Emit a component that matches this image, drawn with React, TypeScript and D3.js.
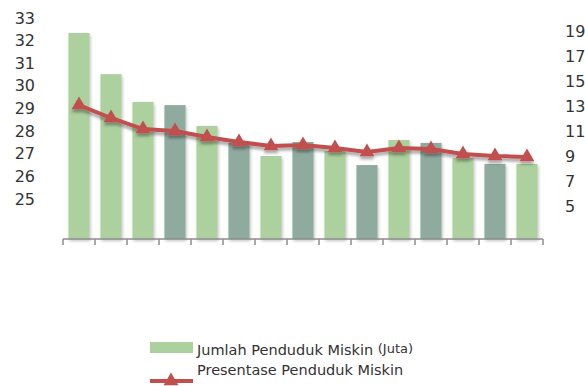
import React, { useEffect, useRef } from "react";
import * as d3 from "d3";

// periods (no labels shown on the axis)
const periods = ["1", "2", "3", "4", "5", "6", "7", "8", "9", "10", "11", "12", "13", "14", "15"];
// Jumlah Penduduk Miskin (Juta)
const jumlah = [32.34, 30.52, 29.29, 29.15, 28.23, 27.48, 26.9, 27.52, 27.12, 26.5, 27.61, 27.48, 26.81, 26.55, 26.55];
// Presentase Penduduk Miskin (%)
const presentase = [13.11, 12.07, 11.18, 11.02, 10.54, 10.14, 9.82, 9.9, 9.66, 9.34, 9.66, 9.58, 9.18, 9.02, 8.94];
// bar shade per period
const shade = ["l", "l", "l", "d", "l", "d", "l", "d", "l", "d", "l", "d", "l", "d", "l"];
const leftTicks = [25, 26, 27, 28, 29, 30, 31, 32, 33];
const rightTicks = [5, 7, 9, 11, 13, 15, 17, 19];
const legendLabels = ["Jumlah Penduduk Miskin", "Presentase Penduduk Miskin"];

export default function App() {
  const svgRef = useRef<SVGSVGElement>(null);

  useEffect(() => {
    if (!svgRef.current) return;
    const width = 585;
    const height = 386;
    const baseY = 239;
    const font = "'DejaVu Sans', sans-serif";
    const red = "#c0504d";
    const colors: Record<string, string> = { l: "#acd19e", d: "#8fab9f" };

    const svg = d3.select(svgRef.current);
    svg.selectAll("*").remove();
    svg.attr("width", width).attr("height", height).attr("viewBox", `0 0 ${width} ${height}`);

    const defs = svg.append("defs");
    const sh = defs.append("filter").attr("id", "sh").attr("x", "-30%").attr("y", "-30%").attr("width", "160%").attr("height", "160%");
    sh.append("feDropShadow").attr("dx", 1).attr("dy", 2).attr("stdDeviation", 1.5).attr("flood-color", "#000").attr("flood-opacity", 0.25);
    const shl = defs.append("filter").attr("id", "shl").attr("x", "-10%").attr("y", "-30%").attr("width", "120%").attr("height", "200%");
    shl.append("feDropShadow").attr("dx", 0).attr("dy", 3).attr("stdDeviation", 1.6).attr("flood-color", "#000").attr("flood-opacity", 0.35);

    const x = d3.scaleBand().domain(periods).range([63, 543]).paddingInner(0.34).paddingOuter(0.17);
    const yL = d3.scaleLinear().domain([25, 33]).range([199, 18]);
    const yR = d3.scaleLinear().domain([5, 19]).range([206, 31.7]);

    // bars
    svg
      .append("g")
      .selectAll("rect")
      .data(jumlah)
      .join("rect")
      .attr("x", (_, i) => x(periods[i])!)
      .attr("y", (d) => yL(d))
      .attr("width", x.bandwidth())
      .attr("height", (d) => baseY - yL(d))
      .attr("fill", (_, i) => colors[shade[i]])
      .attr("filter", "url(#sh)");

    // x axis line + ticks
    const ax = svg.append("g").attr("stroke", "#8c8c8c").attr("stroke-width", 1.5);
    ax.append("line").attr("x1", 63).attr("x2", 543).attr("y1", baseY).attr("y2", baseY);
    const step = x.step();
    ax.selectAll("line.t")
      .data(d3.range(periods.length + 1))
      .join("line")
      .attr("class", "t")
      .attr("x1", (i) => 63 + i * step)
      .attr("x2", (i) => 63 + i * step)
      .attr("y1", baseY)
      .attr("y2", baseY + 6);

    // line series
    const cx = (i: number) => x(periods[i])! + x.bandwidth() / 2;
    const line = d3
      .line<number>()
      .x((_, i) => cx(i))
      .y((d) => yR(d));
    const lg = svg.append("g").attr("filter", "url(#shl)");
    lg.append("path").attr("d", line(presentase)).attr("fill", "none").attr("stroke", red).attr("stroke-width", 4).attr("stroke-linejoin", "round");
    const tri = d3.symbol().type(d3.symbolTriangle).size(95);
    lg.selectAll("path.m")
      .data(presentase)
      .join("path")
      .attr("class", "m")
      .attr("d", tri)
      .attr("transform", (d, i) => `translate(${cx(i)},${yR(d)})`)
      .attr("fill", red);

    // left ticks
    svg
      .append("g")
      .selectAll("text")
      .data(leftTicks)
      .join("text")
      .attr("x", 35)
      .attr("y", (d) => yL(d))
      .attr("text-anchor", "end")
      .attr("dominant-baseline", "central")
      .attr("font-family", font)
      .attr("font-size", 16)
      .attr("fill", "#333")
      .text((d) => d);

    // right ticks
    svg
      .append("g")
      .selectAll("text")
      .data(rightTicks)
      .join("text")
      .attr("x", 565)
      .attr("y", (d) => yR(d))
      .attr("dominant-baseline", "central")
      .attr("font-family", font)
      .attr("font-size", 16)
      .attr("fill", "#333")
      .text((d) => d);

    // legend
    const leg = svg.append("g").attr("font-family", font).attr("fill", "#333");
    leg.append("rect").attr("x", 150).attr("y", 342).attr("width", 43).attr("height", 11).attr("fill", colors.l);
    const t1 = leg.append("text").attr("x", 197).attr("y", 355).attr("font-size", 14.5).text(legendLabels[0] + " ");
    t1.append("tspan").attr("font-size", 13).attr("dy", -2).text("(Juta)");
    leg.append("line").attr("x1", 150).attr("x2", 193).attr("y1", 381).attr("y2", 381).attr("stroke", red).attr("stroke-width", 4);
    leg.append("path").attr("d", tri).attr("transform", "translate(171,381)").attr("fill", red);
    leg.append("text").attr("x", 197).attr("y", 375).attr("font-size", 14.5).text(legendLabels[1]);
  }, []);

  return <svg ref={svgRef} style={{ position: "absolute", left: 0, top: 0, display: "block" }} />;
}
